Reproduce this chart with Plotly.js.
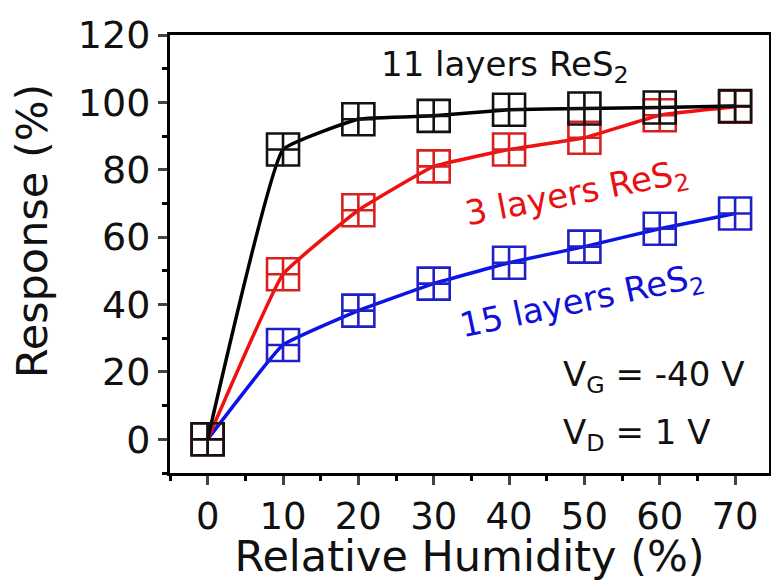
<!DOCTYPE html>
<html><head><meta charset="utf-8">
<script src="https://cdn.plot.ly/plotly-3.0.1.min.js"></script>
<style>body{margin:0;background:#fff}#c{width:771px;height:581px}</style>
</head><body><div id="c"></div>
<script>
const humidity = [0, 10, 20, 30, 40, 50, 60, 70];
const res11 = [0, 86, 95, 96, 97.8, 98.2, 98.5, 98.9];
const res3 = [0, 49, 68, 81, 86, 89.5, 96.2, 98.7];
const res15 = [0, 28, 38.2, 46.2, 52.4, 57.2, 62.5, 67];
const xTicks = [0, 10, 20, 30, 40, 50, 60, 70];
const yTicks = [0, 20, 40, 60, 80, 100, 120];

function tr(y, lc, mc) {
  return {x: humidity, y: y, mode: 'lines+markers', type: 'scatter',
    line: {color: lc, width: 3.5, shape: 'spline', smoothing: 0.3},
    marker: {symbol: 'square-cross-open', size: 32, color: mc, line: {width: 2.6, color: mc}},
    showlegend: false, cliponaxis: false};
}
const font = 'DejaVu Sans, Verdana, sans-serif';
const data = [tr(res15, '#0a14e6', '#2020c8'), tr(res3, '#f01010', '#d82020'), tr(res11, '#000000', '#111111')];
const annFont = (c) => ({size: 34, family: font, color: c});
const layout = {
  width: 771, height: 581,
  margin: {l: 170, r: 2, t: 35, b: 108},
  paper_bgcolor: '#fff', plot_bgcolor: '#fff',
  font: {family: font, color: '#111'},
  xaxis: {range: [-5, 74.5], tickvals: xTicks, ticks: 'outside', ticklen: 9, tickwidth: 3,
    showgrid: false, zeroline: false, showline: true, linewidth: 3, linecolor: '#000', mirror: true,
    tickfont: {size: 37, family: font, color: '#111'},
    minor: {dtick: 5, tick0: 5, ticks: 'outside', ticklen: 5, tickwidth: 3, tickcolor: '#000', showgrid: false},
    title: {text: 'Relative Humidity (%)', font: {size: 43, family: font, color: '#111'}, standoff: 3}},
  yaxis: {range: [-10, 120], tickvals: yTicks, ticks: 'outside', ticklen: 9, tickwidth: 3,
    showgrid: false, zeroline: false, showline: true, linewidth: 3, linecolor: '#000', mirror: true,
    tickfont: {size: 38, family: font, color: '#111'},
    minor: {dtick: 10, tick0: 10, ticks: 'outside', ticklen: 5, tickwidth: 3, tickcolor: '#000', showgrid: false}},
  annotations: [
    {xref: 'paper', yref: 'paper', x: -0.23, y: 0.5525, xanchor: 'center', yanchor: 'middle', textangle: -90,
      text: 'Response (%)', showarrow: false, font: {size: 43, family: font, color: '#111'}},
    {xref: 'paper', yref: 'paper', x: 0.559, y: 0.929, xanchor: 'center', yanchor: 'middle',
      text: '11 layers ReS<sub>2</sub>', showarrow: false, font: annFont('#111')},
    {xref: 'paper', yref: 'paper', x: 0.68, y: 0.635, xanchor: 'center', yanchor: 'middle',
      text: '3 layers ReS<sub>2</sub>', showarrow: false, textangle: -11, font: annFont('#e81010')},
    {xref: 'paper', yref: 'paper', x: 0.687, y: 0.39, xanchor: 'center', yanchor: 'middle',
      text: '15 layers ReS<sub>2</sub>', showarrow: false, textangle: -12, font: annFont('#1010d8')},
    {xref: 'paper', yref: 'paper', x: 0.652, y: 0.221, xanchor: 'left', yanchor: 'middle',
      text: 'V<sub>G</sub> = -40 V', showarrow: false, font: annFont('#111')},
    {xref: 'paper', yref: 'paper', x: 0.652, y: 0.089, xanchor: 'left', yanchor: 'middle',
      text: 'V<sub>D</sub> = 1 V', showarrow: false, font: annFont('#111')}
  ]
};
Plotly.newPlot('c', data, layout, {displayModeBar: false, staticPlot: true});
</script></body></html>
